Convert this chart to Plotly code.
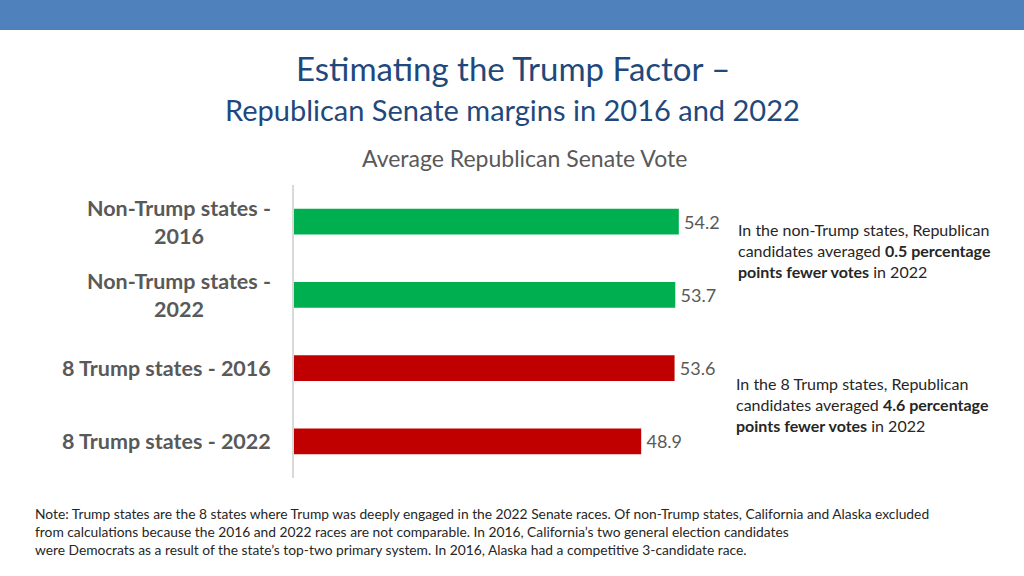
import plotly.graph_objects as go

categories = ["Non-Trump states -<br>2016", "Non-Trump states -<br>2022",
              "8 Trump states - 2016", "8 Trump states - 2022"]
values = [54.2, 53.7, 53.6, 48.9]
colors = ["#00B050", "#00B050", "#C00000", "#C00000"]

title_line1 = "Estimating the Trump Factor \u2013"
title_line2 = "Republican Senate margins in 2016 and 2022"
subtitle = "Average Republican Senate Vote"
note_text = ("Note: Trump states are the 8 states where Trump was deeply engaged in the 2022 Senate races. "
             "Of non-Trump states, California and Alaska excluded<br>"
             "from calculations because the 2016 and 2022 races are not comparable. In 2016, "
             "California\u2019s two general election candidates<br>"
             "were Democrats as a result of the state\u2019s top-two primary system. In 2016, "
             "Alaska had a competitive 3-candidate race.")
comment_nontrump = ("In the non-Trump states, Republican<br>candidates averaged <b>0.5 percentage</b><br>"
                    "<b>points fewer votes</b> in 2022")
comment_trump = ("In the 8 Trump states, Republican<br>candidates averaged <b>4.6 percentage</b><br>"
                 "<b>points fewer votes</b> in 2022")

FONT = "Lato, Open Sans, sans-serif"

fig = go.Figure()
fig.add_trace(go.Bar(
    y=categories, x=values, orientation="h",
    marker=dict(color=colors, line=dict(width=0)),
    width=0.35,
    text=[f"\u2009{v:.1f}" for v in values], textposition="outside",
    textfont=dict(family=FONT, size=18, color="#595959"),
    cliponaxis=False, hoverinfo="skip",
))

W, H = 1024, 576
x0, x1 = 294, 1004
y0, y1 = 185, 478

fig.update_layout(
    width=W, height=H,
    margin=dict(l=x0, r=W - x1, t=y0, b=H - y1),
    paper_bgcolor="white", plot_bgcolor="white",
    showlegend=False,
    xaxis=dict(range=[0, 100], visible=False, fixedrange=True),
    yaxis=dict(categoryorder="array", categoryarray=categories[::-1],
               showticklabels=False, showline=True, linecolor="#D9D9D9", linewidth=1.5,
               showgrid=False, zeroline=False, ticks="", fixedrange=True),
)

def px_x(px):
    return (px - x0) / (x1 - x0)

def px_y(py):
    return (y1 - py) / (y1 - y0)

# top band
fig.add_shape(type="rect", xref="paper", yref="paper",
              x0=px_x(0), x1=px_x(W), y0=px_y(30), y1=px_y(0),
              fillcolor="#4F81BD", line=dict(width=0), layer="above")

anns = [
    dict(text=title_line1, x=px_x(513), y=px_y(68), font=dict(family=FONT, size=33, color="#1F497D")),
    dict(text=title_line2, x=px_x(512), y=px_y(110), font=dict(family=FONT, size=29, color="#1F497D")),
    dict(text=subtitle, x=px_x(524), y=px_y(158), font=dict(family=FONT, size=23, color="#595959")),
]
for a in anns:
    a.update(xref="paper", yref="paper", xanchor="center", yanchor="middle", showarrow=False)
    fig.add_annotation(**a)

for cat in categories:
    fig.add_annotation(text=f"<b>{cat}</b>", xref="paper", yref="y", x=px_x(273), y=cat,
                       xanchor="right", yanchor="middle", align="center", showarrow=False,
                       font=dict(family=FONT, size=21.5, color="#595959"))

fig.add_annotation(text=comment_nontrump, xref="paper", yref="paper", x=px_x(736), y=px_y(250),
                   xanchor="left", yanchor="middle", align="left", showarrow=False,
                   font=dict(family=FONT, size=16, color="#262626"))
fig.add_annotation(text=comment_trump, xref="paper", yref="paper", x=px_x(734), y=px_y(404),
                   xanchor="left", yanchor="middle", align="left", showarrow=False,
                   font=dict(family=FONT, size=16, color="#262626"))
fig.add_annotation(text=note_text, xref="paper", yref="paper", x=px_x(33), y=px_y(531),
                   xanchor="left", yanchor="middle", align="left", showarrow=False,
                   font=dict(family=FONT, size=13.8, color="#262626"))

fig.write_html("out.html", config={"displayModeBar": False},
               post_script="document.body.style.margin='0';document.body.style.overflow='hidden';")
